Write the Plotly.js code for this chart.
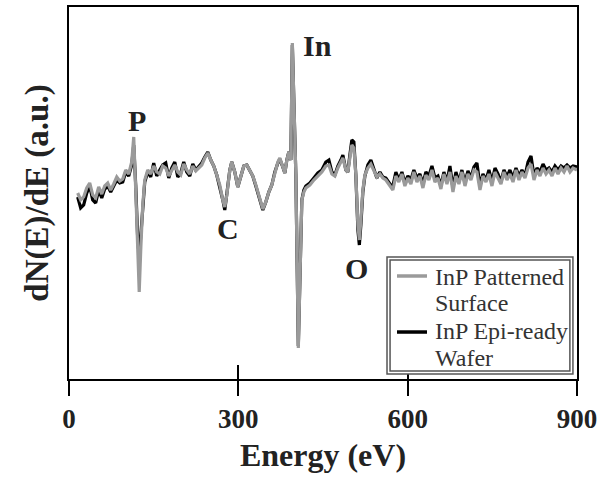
<!DOCTYPE html>
<html>
<head>
<meta charset="utf-8">
<script src="https://cdn.plot.ly/plotly-3.0.1.min.js"></script>
<style>html,body{margin:0;padding:0;background:#fff;}#chart{width:603px;height:481px;}</style>
</head>
<body>
<div id="chart"></div>
<script>
// Energy (eV)
const energy = [15.4,20.7,26.0,31.4,36.7,42.0,47.3,52.6,58.0,63.3,68.6,73.9,79.2,84.6,89.9,95.2,100.5,105.8,111.1,114.7,118.2,121.8,124.4,127.1,130.6,134.2,139.5,144.8,150.1,155.4,160.8,166.1,171.4,176.7,182.0,187.4,192.7,198.0,203.3,208.6,214.0,219.3,224.6,229.9,235.2,240.6,245.9,251.2,256.5,261.8,267.1,272.5,276.0,279.6,284.9,288.4,293.7,299.0,304.4,309.7,315.0,320.3,325.6,331.0,338.1,343.4,348.7,354.0,359.3,364.7,370.0,373.5,378.8,382.4,385.9,389.5,393.0,395.7,401.9,406.3,412.5,416.1,419.6,426.7,433.8,440.9,448.0,455.0,460.4,465.7,471.0,476.3,481.6,485.2,490.5,494.0,497.6,501.1,504.7,508.2,511.8,514.4,517.1,520.6,524.2,529.5,534.8,540.1,545.4,550.8,556.1,561.4,568.5,573.8,579.1,584.4,589.8,595.1,600.4,605.7,611.0,616.4,621.7,627.0,632.3,637.6,643.0,648.3,653.6,658.9,664.2,669.6,674.9,680.2,685.5,690.8,696.1,701.5,706.8,712.1,717.4,722.7,728.1,733.4,738.7,744.0,749.3,754.7,760.0,765.3,770.6,775.9,781.2,786.6,791.9,797.2,802.5,807.8,813.2,818.5,823.8,829.1,834.4,839.8,845.1,850.4,855.7,861.0,866.4,871.7,877.0,882.3,887.6,893.0,900.0];
// dN(E)/dE, InP patterned surface (a.u.)
const patterned = [-18,-25,-22,-13,-8,-20,-23,-12,-19,-11,-8,-15,-9,-2,-6,-4,5,1,13,38,-15,-85,-117,-75,-30,-5,5,1,9,3,1,9,7,-1,5,10,3,0,11,5,1,9,4,7,10,17,22,15,9,0,-10,-25,-32,-20,5,13,3,-12,-1,9,10,5,-1,-10,-25,-34,-27,-17,-10,3,13,17,8,2,15,23,15,132,0,-173,-25,-17,-13,-10,-5,-1,3,9,10,1,-1,7,13,17,5,3,17,30,27,0,-50,-65,-45,-15,0,7,11,5,-2,1,-3,-5,-11,-15,-1,-7,1,-11,-3,-9,3,-7,-1,-13,0,-5,5,-7,-3,-14,1,-9,3,-17,-1,-9,3,-11,1,-5,5,3,-15,-1,-7,1,-11,3,-3,-9,3,-5,1,-7,5,-5,3,-3,7,11,-5,5,-1,7,1,5,-1,7,1,7,3,9,3,7,5];
// dN(E)/dE, InP epi-ready wafer (a.u.)
const epiReady = [-22,-33,-30,-18,-11,-25,-28,-15,-23,-14,-11,-17,-11,-5,-8,-7,3,-1,10,30,-10,-65,-82,-60,-30,-7,3,-2,12,-1,5,10,12,-3,7,13,-2,2,13,3,-1,11,5,9,12,18,23,15,9,0,-11,-25,-35,-21,5,13,3,-12,-1,9,10,5,-1,-11,-25,-35,-27,-17,-10,3,12,16,8,2,15,23,15,130,0,-171,-25,-15,-11,-8,-3,2,5,13,15,3,0,9,15,20,5,3,20,35,33,0,-55,-70,-50,-17,-1,10,15,7,-3,3,-2,-3,-9,-11,3,-5,3,-8,-1,-5,5,-3,1,-9,3,-1,9,-3,-1,-11,3,-7,9,-13,3,-7,5,-8,4,-3,8,12,-11,1,-5,5,-7,7,1,-7,5,-2,5,-3,7,-1,5,-1,13,19,-1,7,3,11,5,7,3,9,5,9,7,10,7,9,8];
const xTicks = [0, 300, 600, 900];
const seriesNames = ["InP Patterned Surface", "InP Epi-ready Wafer"];
const legendLines = [["InP Patterned", "Surface"], ["InP Epi-ready", "Wafer"]];
const seriesColors = ["#9a9a9a", "#000000"];
const peakLabels = ["P", "C", "In", "O"];
const peakEnergy = [120, 281, 440, 510];
const peakSignal = [55, -53, 130, -93];

const serif = "Liberation Serif, Times New Roman, serif";

const traces = [
  {x: energy, y: epiReady, type: "scatter", mode: "lines", name: seriesNames[1],
   line: {color: seriesColors[1], width: 3.2}, showlegend: false},
  {x: energy, y: patterned, type: "scatter", mode: "lines", name: seriesNames[0],
   line: {color: seriesColors[0], width: 3.2}, showlegend: false},
  {x: [null], y: [null], xaxis: "x2", type: "scatter", mode: "lines", showlegend: false, hoverinfo: "skip"}
];

// hand-built legend (box, line samples, two-line labels)
const shapes = [
  {type: "rect", xref: "paper", yref: "paper", x0: 0.626, x1: 0.992, y0: 0.0134, y1: 0.328,
   line: {color: "#555", width: 1.5}, fillcolor: "#ffffff", layer: "above"},
  {type: "rect", xref: "paper", yref: "paper", x0: 0.632, x1: 0.986, y0: 0.0215, y1: 0.320,
   line: {color: "#555", width: 1.5}, layer: "above"}
];
const sampleY = [0.2769, 0.1263];
seriesColors.forEach((c, i) => shapes.push({
  type: "line", xref: "paper", yref: "paper", x0: 0.6457, x1: 0.7047, y0: sampleY[i], y1: sampleY[i],
  line: {color: c, width: 3.5}, layer: "above"
}));
const textY = [[0.2742, 0.2043], [0.129, 0.0565]];
const annotations = [];
legendLines.forEach((lines, i) => lines.forEach((t, j) => annotations.push({
  x: 0.7165, y: textY[i][j], xref: "paper", yref: "paper", xanchor: "left", yanchor: "middle",
  text: t, showarrow: false, font: {family: serif, size: 24, color: "#333"}
})));
peakLabels.forEach((t, i) => annotations.push({
  x: peakEnergy[i], y: peakSignal[i], xref: "x", yref: "y", text: "<b>" + t + "</b>",
  showarrow: false, font: {family: serif, size: 30, color: "#222"}
}));

const layout = {
  width: 603, height: 481,
  margin: {l: 69, r: 26, t: 7, b: 102},
  paper_bgcolor: "#ffffff", plot_bgcolor: "#ffffff",
  font: {family: serif, color: "#000"},
  showlegend: false,
  xaxis: {
    range: [0, 900], tickvals: xTicks, ticktext: xTicks.map(String),
    ticks: "outside", ticklen: 15, tickwidth: 2, tickcolor: "#000",
    showline: true, linewidth: 2, linecolor: "#000", mirror: true,
    showgrid: false, zeroline: false,
    tickfont: {family: serif, size: 27, color: "#222", weight: "bold"},
    title: {text: "<b>Energy (eV)</b>", font: {family: serif, size: 32, color: "#222"}, standoff: 10}
  },
  xaxis2: {
    overlaying: "x", anchor: "y", range: [0, 900], tickvals: xTicks,
    ticks: "inside", ticklen: 14, tickwidth: 2, tickcolor: "#000",
    showticklabels: false, showline: false, showgrid: false, zeroline: false, side: "bottom"
  },
  yaxis: {
    range: [-204, 168], showticklabels: false, ticks: "",
    showline: true, linewidth: 2, linecolor: "#000", mirror: true,
    showgrid: false, zeroline: false,
    title: {text: "<b>dN(E)/dE (a.u.)</b>", font: {family: serif, size: 33, color: "#222"}, standoff: 8}
  },
  shapes: shapes,
  annotations: annotations
};

Plotly.newPlot("chart", traces, layout, {displayModeBar: false, staticPlot: true});
</script>
</body>
</html>
